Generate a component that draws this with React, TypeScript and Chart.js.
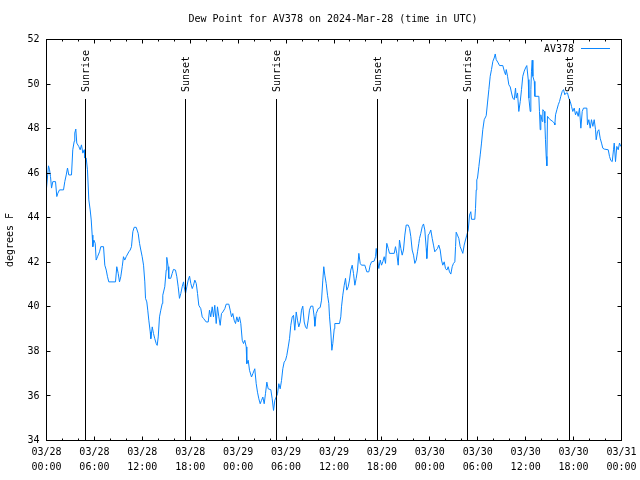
import React, { useEffect, useRef } from "react";
import { Chart, registerables } from "chart.js";

Chart.register(...registerables);

const TITLE = "Dew Point for AV378 on 2024-Mar-28 (time in UTC)";
const SERIES_NAME = "AV378";
const Y_TITLE = "degrees F";
const LINE_COLOR = "#0a86ff";
const FONT = "'DejaVu Sans Mono', 'Liberation Mono', monospace";

// hours since 2024-03-28 00:00 UTC
const obsHours: number[] = [
  0.00, 0.25, 0.38, 0.50, 0.63, 0.79, 1.13, 1.29, 1.42, 1.63,
  2.13, 2.29, 2.47, 2.63, 2.79, 3.13, 3.29, 3.47, 3.54, 3.67,
  3.79, 4.04, 4.22, 4.38, 4.55, 4.72, 4.80, 4.97, 5.13, 5.30,
  5.47, 5.60, 5.72, 5.80, 5.92, 6.10, 6.22, 6.39, 6.64, 6.80,
  7.14, 7.30, 7.48, 7.64, 7.80, 8.64, 8.80, 8.98, 9.14, 9.30,
  9.48, 9.64, 9.80, 9.98, 10.31, 10.48, 10.64, 10.81, 10.98, 11.23,
  11.48, 11.65, 11.81, 11.98, 12.15, 12.31, 12.40, 12.56, 12.68, 12.81,
  12.99, 13.06, 13.24, 13.40, 13.56, 13.74, 13.86, 13.99, 14.15, 14.31,
  14.49, 14.56, 14.81, 14.99, 15.06, 15.24, 15.31, 15.56, 15.74, 15.90,
  16.15, 16.32, 16.49, 16.65, 16.82, 16.99, 17.16, 17.24, 17.41, 17.57,
  17.74, 17.91, 18.07, 18.25, 18.41, 18.57, 18.75, 18.91, 19.07, 19.32,
  19.50, 19.66, 20.00, 20.25, 20.41, 20.57, 20.75, 20.91, 21.07, 21.25,
  21.41, 21.58, 21.75, 21.91, 22.08, 22.33, 22.50, 22.83, 23.00, 23.17,
  23.33, 23.50, 23.67, 23.83, 24.01, 24.17, 24.33, 24.51, 24.67, 24.83,
  25.01, 25.08, 25.26, 25.42, 25.67, 25.84, 26.08, 26.26, 26.42, 26.59,
  26.76, 26.92, 27.09, 27.26, 27.42, 27.59, 27.76, 28.09, 28.26, 28.43,
  28.59, 28.76, 28.93, 29.09, 29.26, 29.43, 29.59, 29.76, 29.93, 30.09,
  30.27, 30.43, 30.59, 30.77, 30.93, 31.09, 31.27, 31.43, 31.59, 31.77,
  31.93, 32.09, 32.27, 32.43, 32.60, 32.77, 32.93, 33.10, 33.35, 33.52,
  33.60, 33.77, 34.02, 34.27, 34.44, 34.60, 34.72, 34.85, 35.02, 35.19,
  35.35, 35.44, 35.60, 35.73, 35.85, 36.03, 36.10, 36.69, 36.85, 36.94,
  37.10, 37.28, 37.44, 37.60, 37.78, 37.94, 38.10, 38.28, 38.44, 38.61,
  38.78, 38.94, 39.11, 39.28, 39.44, 39.86, 40.11, 40.36, 40.53, 40.70,
  41.03, 41.20, 41.29, 41.45, 41.61, 41.79, 41.95, 42.11, 42.29, 42.45,
  42.61, 42.79, 42.95, 43.54, 43.70, 43.86, 44.04, 44.20, 44.37, 44.54,
  44.70, 44.87, 45.04, 45.29, 45.46, 45.62, 45.79, 45.96, 46.12, 46.30,
  46.46, 46.62, 46.71, 46.87, 47.05, 47.21, 47.37, 47.55, 47.62, 47.80,
  47.96, 48.12, 48.30, 48.46, 48.62, 48.80, 48.96, 49.12, 49.30, 49.46,
  49.62, 49.80, 49.96, 50.13, 50.30, 50.46, 50.63, 50.80, 50.96, 51.13,
  51.22, 51.30, 51.46, 51.63, 51.80, 51.97, 52.13, 52.30, 52.46, 52.63,
  52.81, 52.97, 53.13, 53.22, 53.63, 53.72, 53.81, 53.88, 53.97, 54.14,
  54.31, 54.47, 54.63, 54.81, 55.06, 55.22, 55.39, 55.56, 55.72, 55.89,
  56.06, 56.19, 56.31, 56.56, 56.73, 57.14, 57.32, 57.48, 57.57, 57.73,
  57.89, 58.07, 58.23, 58.39, 58.57, 58.73, 58.82, 58.98, 59.14, 59.32,
  59.48, 59.64, 59.82, 59.98, 60.14, 60.32, 60.40, 60.57, 60.65, 60.73,
  60.82, 60.90, 61.08, 61.15, 61.65, 61.73, 61.82, 61.90, 62.07, 62.15,
  62.32, 62.40, 62.48, 62.57, 62.65, 62.73, 62.90, 63.07, 63.40, 63.58,
  63.65, 63.74, 63.91, 64.08, 64.24, 64.40, 64.58, 64.74, 64.90, 65.08,
  65.24, 65.40, 65.58, 65.74, 65.90, 66.08, 66.24, 66.40, 66.58, 66.74,
  66.91, 67.08, 67.24, 67.66, 67.74, 67.91, 68.08, 68.24, 68.41, 68.58,
  68.75, 68.83, 69.00, 69.16, 69.33, 69.50, 69.66, 69.84, 70.34, 70.50,
  70.66, 70.84, 71.00, 71.09, 71.25, 71.41, 71.59, 71.75, 71.91,
];

// dew point, degrees F
const dewPointF: number[] = [
  45.33, 46.33, 46.15, 45.85, 45.33, 45.62, 45.62, 44.95, 45.10, 45.25,
  45.25, 45.62, 45.92, 46.23, 45.92, 45.92, 47.05, 47.43, 47.80, 47.98,
  47.35, 47.20, 47.05, 47.27, 46.90, 47.05, 46.68, 46.68, 46.15, 44.80,
  44.35, 43.90, 43.22, 42.70, 43.00, 42.85, 42.10, 42.25, 42.47, 42.70,
  42.70, 41.87, 41.65, 41.35, 41.12, 41.12, 41.80, 41.50, 41.12, 41.35,
  41.80, 42.25, 42.10, 42.25, 42.47, 42.55, 42.70, 43.37, 43.57, 43.57,
  43.30, 42.85, 42.55, 42.25, 41.87, 41.12, 40.38, 40.22, 39.85, 39.40,
  38.87, 38.57, 39.10, 38.80, 38.57, 38.35, 38.27, 38.65, 39.55, 39.85,
  40.15, 40.52, 40.90, 41.65, 42.22, 41.80, 41.28, 41.28, 41.50, 41.68,
  41.65, 41.35, 40.90, 40.38, 40.60, 40.90, 41.12, 40.90, 40.60, 40.90,
  41.20, 41.38, 41.05, 40.82, 40.97, 41.20, 41.05, 40.60, 40.07, 39.92,
  39.55, 39.48, 39.32, 39.32, 39.85, 39.55, 40.00, 39.55, 40.07, 39.25,
  40.00, 39.55, 39.17, 39.70, 39.77, 39.92, 40.12, 40.12, 39.85, 39.55,
  39.70, 39.40, 39.25, 39.55, 39.32, 39.55, 39.25, 38.50, 38.35, 38.50,
  38.20, 37.45, 37.60, 37.15, 36.85, 37.00, 37.22, 36.55, 36.17, 35.87,
  35.65, 35.80, 35.95, 35.65, 36.10, 36.62, 36.32, 36.28, 35.87, 35.35,
  35.80, 35.95, 36.10, 36.55, 36.32, 36.70, 37.22, 37.52, 37.60, 37.82,
  38.20, 38.57, 39.17, 39.55, 39.62, 38.95, 39.77, 39.40, 39.10, 39.32,
  39.85, 40.03, 39.32, 39.10, 39.02, 39.40, 39.85, 40.03, 40.03, 39.55,
  39.13, 39.70, 39.92, 39.97, 40.30, 41.20, 41.80, 41.42, 41.05, 40.52,
  40.15, 39.55, 38.87, 38.05, 38.35, 39.02, 39.25, 39.25, 39.55, 40.00,
  40.52, 40.97, 41.28, 40.75, 40.90, 41.20, 41.65, 41.87, 41.50, 40.97,
  41.28, 41.65, 42.40, 41.95, 41.87, 41.87, 41.57, 41.57, 41.87, 42.02,
  42.05, 42.25, 42.62, 42.10, 41.72, 42.10, 41.87, 42.02, 42.25, 41.95,
  42.85, 42.62, 42.40, 42.40, 42.70, 42.40, 41.87, 43.00, 42.62, 42.32,
  42.55, 43.22, 43.67, 43.67, 43.52, 43.15, 42.55, 42.32, 41.95, 42.10,
  42.47, 42.85, 43.07, 43.30, 43.60, 43.72, 43.45, 42.62, 42.17, 43.22,
  43.30, 43.45, 43.07, 42.77, 42.47, 42.55, 42.62, 42.77, 42.55, 42.10,
  41.87, 42.02, 41.72, 41.65, 41.80, 41.57, 41.47, 41.80, 41.95, 42.02,
  42.70, 43.35, 43.22, 43.07, 42.70, 42.55, 42.40, 42.77, 43.00, 43.22,
  43.45, 44.12, 44.27, 43.93, 43.93, 44.42, 45.25, 45.70, 45.78, 46.30,
  46.82, 47.35, 47.95, 48.40, 48.58, 49.15, 49.75, 50.35, 50.65, 51.02,
  51.17, 51.35, 51.10, 50.95, 50.83, 50.83, 50.58, 50.42, 50.65, 50.35,
  49.97, 49.87, 49.60, 49.37, 49.30, 49.82, 49.37, 49.60, 48.77, 49.22,
  49.75, 50.35, 50.58, 50.72, 50.83, 50.20, 49.37, 48.77, 49.75, 50.58,
  51.07, 50.35, 50.12, 49.45, 49.45, 48.77, 47.95, 48.62, 48.32, 48.85,
  48.77, 48.25, 47.50, 46.75, 46.33, 48.55, 48.47, 48.40, 48.32, 48.25,
  48.17, 48.62, 48.85, 49.07, 49.22, 49.45, 49.67, 49.75, 49.52, 49.60,
  49.60, 49.37, 49.22, 49.00, 48.77, 48.92, 48.62, 48.77, 48.55, 48.92,
  48.02, 48.77, 48.92, 48.92, 48.17, 48.40, 48.02, 48.40, 48.10, 48.40,
  47.95, 47.50, 47.87, 47.95, 47.57, 47.35, 47.12, 47.08, 47.05, 46.75,
  46.57, 46.52, 47.05, 47.35, 46.52, 47.20, 47.05, 47.35, 47.20,
];

const sunriseHours: number[] = [4.93, 28.85, 52.76];
const sunsetHours: number[] = [17.45, 41.49, 65.53];

const xTickDates: string[] = [
  "03/28", "03/28", "03/28", "03/28", "03/29", "03/29", "03/29",
  "03/29", "03/30", "03/30", "03/30", "03/30", "03/31",
];
const xTickTimes: string[] = [
  "00:00", "06:00", "12:00", "18:00", "00:00", "06:00", "12:00",
  "18:00", "00:00", "06:00", "12:00", "18:00", "00:00",
];
const yTickValues: number[] = [34, 36, 38, 40, 42, 44, 46, 48, 50, 52];

const X_MIN = 0;
const X_MAX = 72;
const X_MAJOR = 6;
const X_MINOR = 2;

const decorPlugin = {
  id: "gnuplotDecor",
  beforeDraw(chart: any) {
    const { ctx } = chart;
    ctx.save();
    ctx.fillStyle = "#ffffff";
    ctx.fillRect(0, 0, chart.width, chart.height);
    ctx.restore();
  },
  afterDraw(chart: any) {
    const { ctx, chartArea: a, scales } = chart;
    const xs = scales.x;
    const ys = scales.y;
    const snap = (p: number) => Math.round(p - 0.5) + 0.5;
    ctx.save();
    ctx.strokeStyle = "#000";
    ctx.lineWidth = 1;
    const L = a.left, R = a.right, T = a.top, B = a.bottom;
    ctx.strokeRect(L, T, R - L, B - T);

    ctx.beginPath();
    for (const v of yTickValues) {
      const y = snap(ys.getPixelForValue(v));
      ctx.moveTo(L, y); ctx.lineTo(L + 4, y);
      ctx.moveTo(R, y); ctx.lineTo(R - 4, y);
    }
    for (let h = X_MIN; h <= X_MAX; h += X_MINOR) {
      const x = snap(xs.getPixelForValue(h));
      const len = h % X_MAJOR === 0 ? 4 : 2;
      ctx.moveTo(x, B); ctx.lineTo(x, B - len);
      ctx.moveTo(x, T); ctx.lineTo(x, T + len);
    }
    ctx.stroke();

    ctx.font = `10px ${FONT}`;
    ctx.fillStyle = "#000";

    const marks: [number, string][] = [
      ...sunriseHours.map((h) => [h, "Sunrise"] as [number, string]),
      ...sunsetHours.map((h) => [h, "Sunset"] as [number, string]),
    ];
    for (const [h, label] of marks) {
      const x = snap(xs.getPixelForValue(h));
      ctx.beginPath();
      ctx.moveTo(x, 99);
      ctx.lineTo(x, B);
      ctx.stroke();
      ctx.save();
      ctx.translate(x + 0.5, 92);
      ctx.rotate(-Math.PI / 2);
      ctx.textAlign = "left";
      ctx.textBaseline = "middle";
      ctx.fillText(label, 0, 0);
      ctx.restore();
    }

    ctx.textAlign = "center";
    ctx.textBaseline = "middle";
    ctx.fillText(TITLE, 333, 19);

    ctx.save();
    ctx.translate(10.5, 240);
    ctx.rotate(-Math.PI / 2);
    ctx.textAlign = "center";
    ctx.textBaseline = "middle";
    ctx.fillText(Y_TITLE, 0, 0);
    ctx.restore();

    ctx.textAlign = "right";
    ctx.textBaseline = "middle";
    ctx.fillText(SERIES_NAME, 574, 49);
    ctx.strokeStyle = LINE_COLOR;
    ctx.beginPath();
    ctx.moveTo(581, 48.5);
    ctx.lineTo(610, 48.5);
    ctx.stroke();

    ctx.restore();
  },
};

export default function App() {
  const canvasRef = useRef<HTMLCanvasElement | null>(null);

  useEffect(() => {
    document.body.style.margin = "0";
    const canvas = canvasRef.current;
    if (!canvas) return;
    const points = obsHours.map((h, i) => ({ x: h, y: dewPointF[i] }));
    const chart = new Chart(canvas, {
      type: "line",
      data: {
        datasets: [
          {
            label: SERIES_NAME,
            data: points,
            borderColor: LINE_COLOR,
            borderWidth: 1,
            pointRadius: 0,
            tension: 0,
            fill: false,
          },
        ],
      },
      options: {
        responsive: false,
        animation: false,
        devicePixelRatio: 1,
        layout: { padding: { top: 39.5, right: 18.5, left: 0, bottom: 0 } },
        plugins: {
          legend: { display: false },
          title: { display: false },
          tooltip: { enabled: false },
        },
        scales: {
          x: {
            type: "linear",
            min: X_MIN,
            max: X_MAX,
            grid: { display: false, drawTicks: false },
            border: { display: false },
            afterFit: (s: any) => {
              s.height = 39.5;
              s.paddingLeft = 0;
              s.paddingRight = 0;
            },
            ticks: {
              stepSize: X_MAJOR,
              autoSkip: false,
              maxRotation: 0,
              minRotation: 0,
              padding: 5,
              color: "#000",
              font: { family: FONT, size: 10, lineHeight: 1.45 },
              callback: (v: any) => {
                const i = Math.round(Number(v) / X_MAJOR);
                return [xTickDates[i], xTickTimes[i]];
              },
            },
          },
          y: {
            type: "linear",
            min: 34,
            max: 52,
            grid: { display: false, drawTicks: false },
            border: { display: false },
            afterFit: (s: any) => {
              s.width = 46.5;
              s.paddingTop = 0;
              s.paddingBottom = 0;
            },
            ticks: {
              stepSize: 2,
              padding: 7,
              color: "#000",
              font: { family: FONT, size: 10 },
              callback: (v: any) => String(v),
            },
          },
        },
      },
      plugins: [decorPlugin],
    });
    return () => chart.destroy();
  }, []);

  return (
    <div style={{ position: "absolute", left: 0, top: 0 }}>
      <canvas ref={canvasRef} width={640} height={480} style={{ display: "block" }} />
    </div>
  );
}
